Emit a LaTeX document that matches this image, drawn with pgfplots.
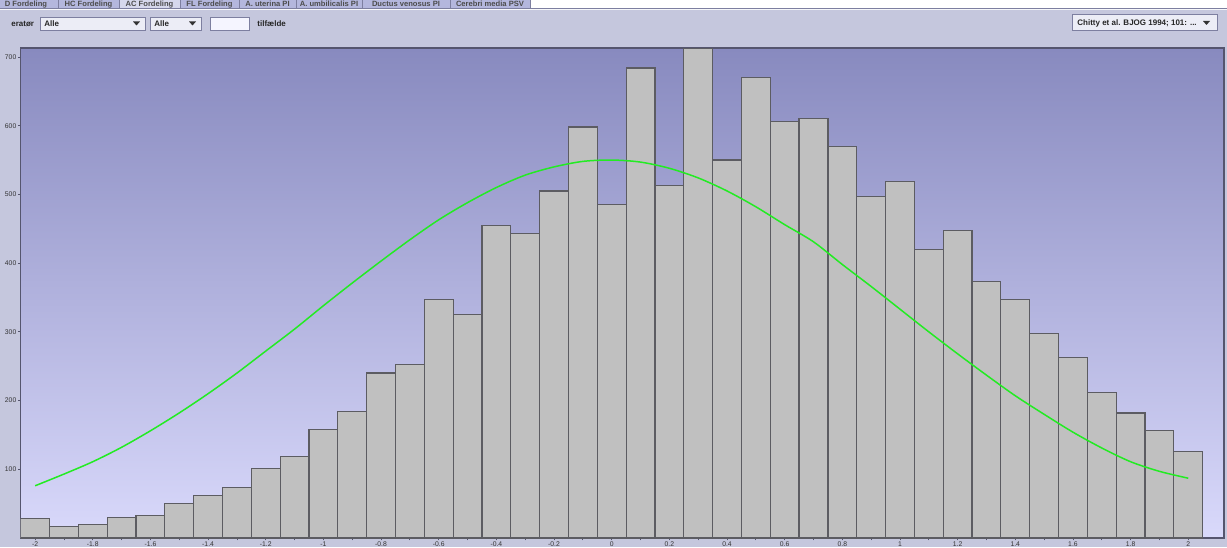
\documentclass[border=0pt]{standalone}
\usepackage{pgfplots}
\pgfplotsset{compat=1.18}
\usepackage{fontspec}
\setmainfont{Liberation Sans}
\definecolor{panel}{RGB}{197,199,221}
\definecolor{bgtop}{RGB}{136,138,191}
\definecolor{bgbot}{RGB}{217,217,251}
\definecolor{barfill}{RGB}{192,192,192}
\definecolor{baredge}{RGB}{92,92,98}
\definecolor{curvegreen}{RGB}{35,235,35}
\definecolor{framecol}{RGB}{85,85,110}
\definecolor{tabbg}{RGB}{180,183,221}
\definecolor{tabsel}{RGB}{214,216,236}
\definecolor{boxfill}{RGB}{236,237,246}
\definecolor{boxedge}{RGB}{125,127,160}
\begin{document}
\begin{tikzpicture}
\fill[panel] (0,0) rectangle (613.5pt,273.5pt);
\begin{scope}[x=0.5pt,y=-0.5pt,shift={(0,273.5pt)}]
  % top strip
  \fill[white] (530,0) rectangle (1227,8.5);
  \fill[tabbg] (0,0) rectangle (530,8.5);
  \fill[tabsel] (119,0) rectangle (180,8.5);
  \draw[boxedge, line width=0.4pt] (0,8.7) -- (1227,8.7);
  \draw[white!85!panel, line width=0.5pt] (0,10) -- (1227,10);
  \foreach \s in {58,119,180,239,296,362,450,530}
    \draw[boxedge, line width=0.4pt] (\s,0) -- (\s,8.5);
  \begin{scope}[every node/.style={font=\fontsize{3.8}{4}\selectfont\bfseries, text=black!70, inner sep=0pt, anchor=base}]
    \node at (26,6.5) {D Fordeling};
    \node at (88.5,6.5) {HC Fordeling};
    \node at (149.5,6.5) {AC Fordeling};
    \node at (209.5,6.5) {FL Fordeling};
    \node at (267.5,6.5) {A. uterina PI};
    \node at (329,6.5) {A. umbilicalis PI};
    \node at (406,6.5) {Ductus venosus PI};
    \node at (490,6.5) {Cerebri media PSV};
  \end{scope}
  % controls row
  \begin{scope}[every node/.style={font=\fontsize{4}{4}\selectfont\bfseries, text=black!85, inner sep=0pt, anchor=base west}]
    \node at (11,26.5) {eratør};
    \fill[boxfill] (40,17) rectangle (145,30);
    \draw[boxedge, line width=0.4pt] (40,17) rectangle (145,30);
    \node at (44,26.5) {Alle};
    \fill[black!80] (133,21.5) -- (140,21.5) -- (136.5,25.5) -- cycle;
    \fill[boxfill] (150,17) rectangle (201,30);
    \draw[boxedge, line width=0.4pt] (150,17) rectangle (201,30);
    \node at (154,26.5) {Alle};
    \fill[black!80] (189,21.5) -- (196,21.5) -- (192.5,25.5) -- cycle;
    \fill[white!96!blue] (210,17) rectangle (249,30);
    \draw[boxedge, line width=0.4pt] (210,17) rectangle (249,30);
    \node at (257,26.5) {tilfælde};
    \fill[boxfill] (1072,15) rectangle (1217,31);
    \draw[boxedge, line width=0.5pt] (1072,15) rectangle (1217,31);
    \node at (1077,25.5) {Chitty et al. BJOG 1994; 101: ...};
    \fill[black!80] (1203,21) -- (1210,21) -- (1206.5,25) -- cycle;
  \end{scope}
\end{scope}
\begin{axis}[
  at={(10.35pt,4.5pt)}, anchor=south west, scale only axis,
  width=601.65pt, height=245pt,
  xmin=-2.05, xmax=2.124, ymin=0, ymax=713,
  axis background/.style={shade, top color=bgtop, bottom color=bgbot},
  axis line style={framecol, line width=0.6pt},
  xtick={-2,-1.8,-1.6,-1.4,-1.2,-1,-0.8,-0.6,-0.4,-0.2,0,0.2,0.4,0.6,0.8,1,1.2,1.4,1.6,1.8,2},
  xticklabels={-2,-1.8,-1.6,-1.4,-1.2,-1,-0.8,-0.6,-0.4,-0.2,0,0.2,0.4,0.6,0.8,1,1.2,1.4,1.6,1.8,2},
  minor xtick={-1.9,-1.7,-1.5,-1.3,-1.1,-0.9,-0.7,-0.5,-0.3,-0.1,0.1,0.3,0.5,0.7,0.9,1.1,1.3,1.5,1.7,1.9},
  ytick={100,200,300,400,500,600,700},
  yticklabels={100,200,300,400,500,600,700},
  tick align=outside, major tick length=1.2pt, minor tick length=1.2pt,
  xtick pos=left, ytick pos=left,
  tick style={framecol, line width=0.4pt},
  ticklabel style={font=\fontsize{3.4}{3.6}\selectfont, text=black!80},
  xticklabel style={inner sep=0.3pt},
  yticklabel style={inner sep=0.8pt},
]
\addplot[ybar, bar width=0.1, fill=barfill, draw=baredge, line width=0.6pt] coordinates {
(-2.0,28) (-1.9,17) (-1.8,20) (-1.7,30) (-1.6,33) (-1.5,50) (-1.4,62) (-1.3,73)
(-1.2,101) (-1.1,119) (-1.0,158) (-0.9,184) (-0.8,240) (-0.7,253) (-0.6,347) (-0.5,325)
(-0.4,455) (-0.3,443) (-0.2,505) (-0.1,598) (0.0,485) (0.1,684) (0.2,513) (0.3,713)
(0.4,550) (0.5,670) (0.6,606) (0.7,610) (0.8,570) (0.9,497) (1.0,519) (1.1,420)
(1.2,448) (1.3,373) (1.4,347) (1.5,298) (1.6,263) (1.7,212) (1.8,182) (1.9,157) (2.0,126)
};
\addplot[curvegreen, line width=0.75pt, smooth, no marks] coordinates {
(-2.0,76) (-1.9,93) (-1.8,111) (-1.7,132) (-1.6,156) (-1.5,182) (-1.4,210) (-1.3,240)
(-1.2,272) (-1.1,304) (-1.0,338) (-0.9,371) (-0.8,403) (-0.7,434) (-0.6,463) (-0.5,488)
(-0.4,510) (-0.3,528) (-0.2,540) (-0.1,548) (0.0,550) (0.1,547) (0.2,538) (0.3,524)
(0.4,505) (0.5,482) (0.6,456) (0.7,431) (0.8,398) (0.9,366) (1.0,333) (1.1,300)
(1.2,268) (1.3,237) (1.4,207) (1.5,180) (1.6,154) (1.7,131) (1.8,111) (1.9,97) (2.0,87)
};
\end{axis}
\pgfresetboundingbox
\useasboundingbox (0,0) rectangle (613.5pt,273.5pt);
\end{tikzpicture}
\end{document}
